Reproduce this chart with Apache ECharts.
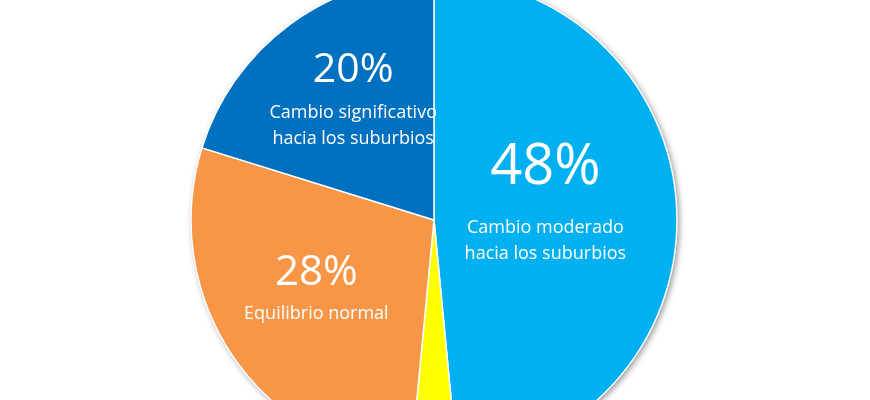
<!DOCTYPE html>
<html>
<head>
<meta charset="utf-8">
<script src="https://cdn.jsdelivr.net/npm/echarts@6/dist/echarts.min.js"></script>
<style>
html,body{margin:0;padding:0;background:#fff;}
#chart{width:870px;height:400px;}
</style>
</head>
<body>
<div id="chart"></div>
<script>
var categories = ["Cambio moderado\nhacia los suburbios", "Otro", "Equilibrio normal", "Cambio significativo\nhacia los suburbios"];
var values = [48, 3, 28, 20];
var colors = ["#00B0F0", "#FFFF00", "#F79646", "#0070C0"];
var showLabel = [true, false, true, true];
var labelShift = [[-13, -20], [0, 0], [-14, -3], [-7, -23]];
var pctSize = [56, 40, 42, 41];
var pctLine = [94, 56, 56, 58];

var total = values.reduce(function (a, b) { return a + b; }, 0);
var FONT = '"Open Sans", "Noto Sans", sans-serif';

var data = values.map(function (v, i) {
  return {
    value: v,
    name: categories[i],
    itemStyle: { color: colors[i] },
    label: {
      show: showLabel[i],
      rich: {
        p: { fontSize: pctSize[i], lineHeight: pctLine[i], color: '#fff', fontFamily: FONT },
        n: { fontSize: 18, lineHeight: 26, color: '#fff', fontFamily: FONT }
      }
    }
  };
});

var chart = echarts.init(document.getElementById('chart'), null, { renderer: 'canvas' });
chart.setOption({
  backgroundColor: '#ffffff',
  animation: false,
  series: [
    {
      type: 'pie',
      silent: true,
      center: [434, 220],
      radius: 243,
      label: { show: false },
      labelLine: { show: false },
      itemStyle: {
        color: '#ffffff',
        shadowBlur: 6,
        shadowColor: 'rgba(0,0,0,0.45)',
        shadowOffsetX: 2,
        shadowOffsetY: 2
      },
      data: [{ value: total, name: 'fondo' }],
      z: 1
    },
    {
      type: 'pie',
      center: [434, 220],
      radius: 243,
      startAngle: 90,
      clockwise: true,
      avoidLabelOverlap: false,
      itemStyle: { borderColor: '#ffffff', borderWidth: 1.5 },
      label: {
        position: 'inside',
        formatter: function (p) { return '{p|' + p.value + '%}\n{n|' + p.name.split('\n').join('}\n{n|') + '}'; },
        align: 'center'
      },
      labelLine: { show: false },
      labelLayout: function (params) {
        var s = labelShift[params.dataIndex];
        return { dx: s[0], dy: s[1] };
      },
      data: data,
      z: 2
    }
  ]
});
</script>
</body>
</html>
